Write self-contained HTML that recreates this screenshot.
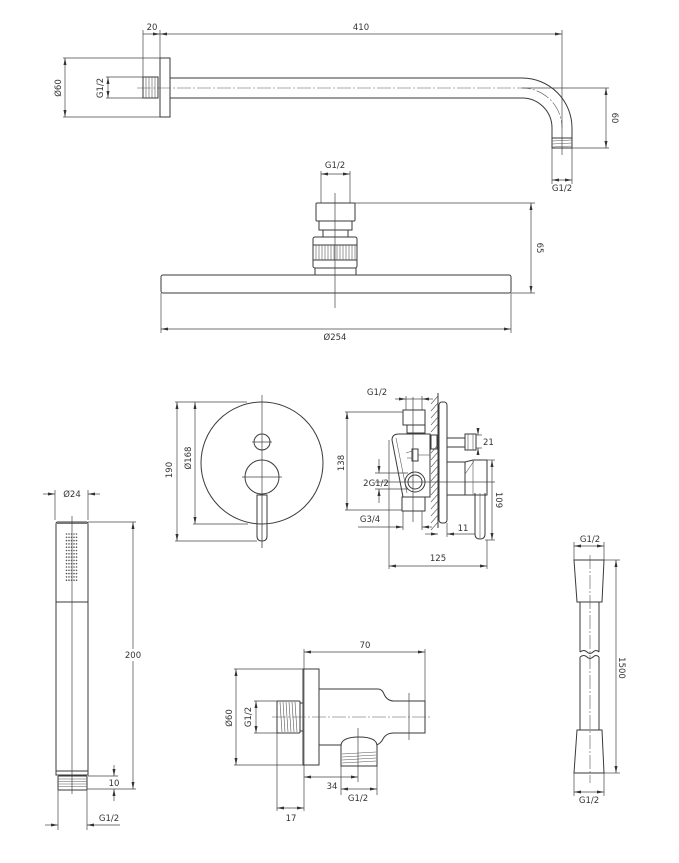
<!DOCTYPE html>
<html><head><meta charset="utf-8"><style>
html,body{margin:0;padding:0;background:#fff;}
svg{display:block;}
text{font-family:"DejaVu Sans","Liberation Sans",sans-serif;font-size:8.5px;fill:#333;}
.o{fill:none;stroke:#3a3a3a;stroke-width:1;}
.d{fill:none;stroke:#444;stroke-width:0.7;}
.c{fill:none;stroke:#555;stroke-width:0.6;stroke-dasharray:14 2 2 2;}
.t{fill:none;stroke:#555;stroke-width:0.6;}
</style></head><body>
<svg width="679" height="863" viewBox="0 0 679 863" xmlns="http://www.w3.org/2000/svg">
<defs>
<marker id="a" viewBox="0 0 7 3" refX="7" refY="1.5" markerWidth="7" markerHeight="3" markerUnits="userSpaceOnUse" orient="auto-start-reverse"><path d="M0,0 L7,1.5 L0,3 z" fill="#333"/></marker>
</defs>

<!-- ===== TOP SHOWER ARM ===== -->
<g>
<line class="d" x1="143" y1="30" x2="143" y2="77"/>
<line class="d" x1="160" y1="30" x2="160" y2="58"/>
<line class="d" x1="143" y1="34" x2="160" y2="34" marker-end="url(#a)"/>
<line class="d" x1="160" y1="34" x2="562" y2="34" marker-start="url(#a)" marker-end="url(#a)"/>
<text x="152" y="30" text-anchor="middle">20</text>
<text x="361" y="30" text-anchor="middle">410</text>
<line class="d" x1="562" y1="30" x2="562" y2="155"/>

<rect class="o" x="160" y="58" width="10" height="59"/>
<rect class="o" x="143" y="77" width="15" height="21"/>
<g class="t"><line x1="146" y1="77" x2="146" y2="98"/><line x1="149" y1="77" x2="149" y2="98"/><line x1="152" y1="77" x2="152" y2="98"/><line x1="155" y1="77" x2="155" y2="98"/></g>
<path class="o" d="M170,78 L522,78 A50,50 0 0 1 572,128 L572,138"/>
<path class="o" d="M170,98 L522,98 A30,30 0 0 1 552,128 L552,138"/>
<path class="c" d="M137,88 L522,88 A40,40 0 0 1 562,128"/>
<line class="d" x1="522" y1="88" x2="609" y2="88"/>
<rect class="o" x="552" y="138" width="20" height="10"/>
<g class="t"><line x1="552" y1="141" x2="572" y2="140"/><line x1="552" y1="144" x2="572" y2="143"/><line x1="552" y1="147" x2="572" y2="146"/></g>

<line class="d" x1="63" y1="58" x2="160" y2="58"/>
<line class="d" x1="63" y1="117" x2="160" y2="117"/>
<line class="d" x1="65" y1="58" x2="65" y2="117" marker-start="url(#a)" marker-end="url(#a)"/>
<text x="59" y="88" text-anchor="middle" dominant-baseline="central" transform="rotate(-90 59 88)">Ø60</text>
<line class="d" x1="106" y1="77" x2="143" y2="77"/>
<line class="d" x1="106" y1="98" x2="143" y2="98"/>
<line class="d" x1="108" y1="77" x2="108" y2="98" marker-start="url(#a)" marker-end="url(#a)"/>
<text x="101" y="88" text-anchor="middle" dominant-baseline="central" transform="rotate(-90 101 88)">G1/2</text>

<line class="d" x1="572" y1="148" x2="609" y2="148"/>
<line class="d" x1="606" y1="88" x2="606" y2="148" marker-start="url(#a)" marker-end="url(#a)"/>
<text x="614" y="118" text-anchor="middle" dominant-baseline="central" transform="rotate(90 614 118)">60</text>
<line class="d" x1="552" y1="148" x2="552" y2="184"/>
<line class="d" x1="572" y1="148" x2="572" y2="184"/>
<line class="d" x1="552" y1="180" x2="572" y2="180" marker-start="url(#a)" marker-end="url(#a)"/>
<text x="562" y="191" text-anchor="middle">G1/2</text>
</g>

<!-- ===== SHOWER HEAD ===== -->
<g>
<text x="335" y="168" text-anchor="middle">G1/2</text>
<line class="d" x1="321" y1="171" x2="321" y2="203"/>
<line class="d" x1="350" y1="171" x2="350" y2="203"/>
<line class="d" x1="321" y1="174" x2="350" y2="174" marker-start="url(#a)" marker-end="url(#a)"/>
<rect class="o" x="316" y="203" width="39" height="18" rx="1"/>
<rect class="o" x="319" y="221" width="33" height="9"/>
<rect class="o" x="323" y="230" width="25" height="7"/>
<rect class="o" x="313" y="237" width="44" height="31" rx="2"/>
<rect class="o" x="313" y="245" width="44" height="15"/>
<g class="t">
<line x1="316" y1="245" x2="316" y2="260"/><line x1="319" y1="245" x2="319" y2="260"/><line x1="322" y1="245" x2="322" y2="260"/><line x1="325" y1="245" x2="325" y2="260"/><line x1="328" y1="245" x2="328" y2="260"/><line x1="331" y1="245" x2="331" y2="260"/><line x1="334" y1="245" x2="334" y2="260"/><line x1="337" y1="245" x2="337" y2="260"/><line x1="340" y1="245" x2="340" y2="260"/><line x1="343" y1="245" x2="343" y2="260"/><line x1="346" y1="245" x2="346" y2="260"/><line x1="349" y1="245" x2="349" y2="260"/><line x1="352" y1="245" x2="352" y2="260"/><line x1="355" y1="245" x2="355" y2="260"/>
</g>
<rect class="o" x="315" y="268" width="41" height="7"/>
<rect class="o" x="161" y="275" width="350" height="18" rx="2"/>
<line class="d" x1="335" y1="193" x2="335" y2="308"/>
<line class="d" x1="355" y1="203" x2="535" y2="203"/>
<line class="d" x1="511" y1="293" x2="535" y2="293"/>
<line class="d" x1="531" y1="203" x2="531" y2="293" marker-start="url(#a)" marker-end="url(#a)"/>
<text x="539" y="248" text-anchor="middle" dominant-baseline="central" transform="rotate(90 539 248)">65</text>
<line class="d" x1="161" y1="293" x2="161" y2="333"/>
<line class="d" x1="511" y1="293" x2="511" y2="333"/>
<line class="d" x1="161" y1="329" x2="511" y2="329" marker-start="url(#a)" marker-end="url(#a)"/>
<text x="335" y="340" text-anchor="middle">Ø254</text>
</g>

<!-- ===== MIXER FRONT ===== -->
<g>
<circle class="o" cx="262" cy="463" r="61"/>
<circle class="o" cx="262" cy="442" r="8"/>
<circle class="o" cx="262" cy="477" r="17"/>
<line class="d" x1="252" y1="442" x2="272" y2="442"/>
<line class="d" x1="242" y1="477" x2="282" y2="477"/>
<line class="d" x1="262" y1="395" x2="262" y2="548"/>
<path class="o" d="M257,495 L257,536 Q257,541 262,541 Q267,541 267,536 L267,495 Z" fill="#fff"/>
<line class="t" x1="262" y1="495" x2="262" y2="548"/>
<line class="d" x1="175" y1="402" x2="247" y2="402"/>
<line class="d" x1="175" y1="541" x2="257" y2="541"/>
<line class="d" x1="177" y1="402" x2="177" y2="541" marker-start="url(#a)" marker-end="url(#a)"/>
<text x="170" y="470" text-anchor="middle" dominant-baseline="central" transform="rotate(-90 170 470)">190</text>
<line class="d" x1="193" y1="524" x2="248" y2="524"/>
<line class="d" x1="195" y1="402" x2="195" y2="524" marker-start="url(#a)" marker-end="url(#a)"/>
<text x="189" y="458" text-anchor="middle" dominant-baseline="central" transform="rotate(-90 189 458)">Ø168</text>
</g>

<!-- ===== MIXER SIDE ===== -->
<g>
<text x="377" y="395" text-anchor="middle">G1/2</text>
<line class="d" x1="406" y1="396" x2="406" y2="410"/>
<line class="d" x1="422" y1="396" x2="422" y2="410"/>
<line class="d" x1="395" y1="399" x2="406" y2="399" marker-end="url(#a)"/>
<line class="d" x1="433" y1="399" x2="422" y2="399" marker-end="url(#a)"/>
<line class="d" x1="406" y1="399" x2="422" y2="399"/>
<!-- wall -->
<line class="o" x1="438" y1="393" x2="438" y2="528"/>
<g class="t">
<line x1="431" y1="404" x2="438" y2="396"/><line x1="431" y1="411" x2="438" y2="403"/><line x1="431" y1="418" x2="438" y2="410"/><line x1="431" y1="425" x2="438" y2="417"/><line x1="431" y1="432" x2="438" y2="424"/><line x1="431" y1="453" x2="438" y2="445"/><line x1="431" y1="460" x2="438" y2="452"/><line x1="431" y1="467" x2="438" y2="459"/><line x1="431" y1="474" x2="438" y2="466"/><line x1="431" y1="481" x2="438" y2="473"/><line x1="431" y1="488" x2="438" y2="480"/><line x1="431" y1="495" x2="438" y2="487"/><line x1="431" y1="502" x2="438" y2="494"/><line x1="431" y1="509" x2="438" y2="501"/><line x1="431" y1="516" x2="438" y2="508"/><line x1="431" y1="523" x2="438" y2="515"/><line x1="431" y1="530" x2="438" y2="522"/>
</g>
<rect class="o" x="439" y="402" width="8" height="121" rx="3" fill="#fff"/>
<!-- top fitting -->
<rect class="o" x="403" y="410" width="22" height="15" fill="#fff"/>
<rect class="o" x="407" y="425" width="18" height="8" fill="#fff"/>
<!-- body -->
<path class="o" d="M392,440 Q392,434 399,434 L430,434 L430,497 L403,497 Z" fill="#fff"/>
<line class="t" x1="396" y1="438" x2="407" y2="493"/>
<rect class="o" x="431" y="435" width="6" height="14"/>
<!-- small valve -->
<rect class="o" x="412" y="449" width="6" height="12"/>
<line class="t" x1="406" y1="453" x2="412" y2="451"/>
<line class="t" x1="407" y1="458" x2="412" y2="458"/>
<line class="t" x1="418" y1="455" x2="430" y2="455"/>
<!-- circle -->
<circle class="o" cx="415" cy="482" r="10" fill="#fff"/>
<circle class="o" cx="415" cy="482" r="7"/>
<!-- bottom fitting -->
<rect class="o" x="402" y="497" width="23" height="14" fill="#fff"/>
<!-- right pipe -->
<rect class="o" x="447" y="438" width="18" height="9"/>
<rect class="o" x="465" y="434" width="11" height="16"/>
<line class="t" x1="468" y1="434" x2="468" y2="450"/>
<line class="t" x1="473" y1="434" x2="473" y2="450"/>
<!-- handle -->
<rect class="o" x="447" y="462" width="18" height="33"/>
<path class="o" d="M465,462 L473,460 L487,460 L487,495 L465,495 Z" fill="#fff"/>
<line class="t" x1="465" y1="474" x2="474" y2="461"/>
<line class="t" x1="473" y1="460" x2="473" y2="495"/>
<path class="o" d="M475,493 L475,534 Q475,539 480,539 Q485,539 485,534 L485,493" fill="#fff"/>
<line class="t" x1="480" y1="493" x2="480" y2="538"/>
<!-- center lines -->
<line class="d" x1="375" y1="482" x2="495" y2="482"/>
<line class="d" x1="413" y1="397" x2="413" y2="522"/>
<!-- 21 -->
<line class="d" x1="476" y1="435" x2="482" y2="435"/>
<line class="d" x1="476" y1="448" x2="482" y2="448"/>
<line class="d" x1="478" y1="428" x2="478" y2="435" marker-end="url(#a)"/>
<line class="d" x1="478" y1="455" x2="478" y2="448" marker-end="url(#a)"/>
<text x="483" y="445">21</text>
<!-- 109 -->
<line class="d" x1="487" y1="460" x2="495" y2="460"/>
<line class="d" x1="485" y1="540" x2="495" y2="540"/>
<line class="d" x1="492" y1="460" x2="492" y2="540" marker-start="url(#a)" marker-end="url(#a)"/>
<text x="498" y="500" text-anchor="middle" dominant-baseline="central" transform="rotate(90 498 500)">109</text>
<!-- 138 -->
<line class="d" x1="345" y1="412" x2="403" y2="412"/>
<line class="d" x1="345" y1="510" x2="402" y2="510"/>
<line class="d" x1="347" y1="412" x2="347" y2="510" marker-start="url(#a)" marker-end="url(#a)"/>
<text x="342" y="463" text-anchor="middle" dominant-baseline="central" transform="rotate(-90 342 463)">138</text>
<!-- 2G1/2 -->
<line class="d" x1="375" y1="473" x2="408" y2="473"/>
<line class="d" x1="375" y1="489" x2="408" y2="489"/>
<line class="d" x1="379" y1="459" x2="379" y2="473" marker-end="url(#a)"/>
<line class="d" x1="379" y1="503" x2="379" y2="489" marker-end="url(#a)"/>
<text x="376" y="486" text-anchor="middle">2G1/2</text>
<!-- G3/4 -->
<line class="d" x1="403" y1="511" x2="403" y2="530"/>
<line class="d" x1="422" y1="511" x2="422" y2="530"/>
<line class="d" x1="358" y1="527" x2="403" y2="527" marker-end="url(#a)"/>
<line class="d" x1="432" y1="527" x2="422" y2="527" marker-end="url(#a)"/>
<text x="370" y="522" text-anchor="middle">G3/4</text>
<!-- 11 -->
<line class="d" x1="447" y1="523" x2="447" y2="537"/>
<line class="d" x1="425" y1="534" x2="438" y2="534" marker-end="url(#a)"/>
<line class="d" x1="475" y1="534" x2="447" y2="534" marker-end="url(#a)"/>
<text x="463" y="531" text-anchor="middle">11</text>
<!-- 125 -->
<line class="d" x1="389" y1="440" x2="389" y2="569"/>
<line class="d" x1="487" y1="540" x2="487" y2="569"/>
<line class="d" x1="389" y1="566" x2="487" y2="566" marker-start="url(#a)" marker-end="url(#a)"/>
<text x="438" y="561" text-anchor="middle">125</text>
</g>

<!-- ===== HAND SHOWER ===== -->
<g>
<text x="72" y="497" text-anchor="middle">Ø24</text>
<line class="d" x1="55" y1="490" x2="55" y2="520"/>
<line class="d" x1="88" y1="490" x2="88" y2="520"/>
<line class="d" x1="43" y1="494" x2="55" y2="494" marker-end="url(#a)"/>
<line class="d" x1="100" y1="494" x2="88" y2="494" marker-end="url(#a)"/>
<path class="o" d="M56,771 L56,524 Q56,522 58,522 L86,522 Q88,522 88,524 L88,771"/>
<line x1="57" y1="523" x2="87" y2="523" stroke="#777" stroke-width="2"/>
<line class="o" x1="56" y1="602" x2="88" y2="602"/>
<rect class="o" x="56" y="771" width="32" height="4"/>
<rect class="o" x="58" y="776" width="29" height="14" rx="1"/>
<g class="t"><line x1="58" y1="779" x2="87" y2="779"/><line x1="58" y1="781.5" x2="87" y2="781.5"/><line x1="58" y1="784" x2="87" y2="784"/><line x1="58" y1="786.5" x2="87" y2="786.5"/></g>
<line class="d" x1="72" y1="516" x2="72" y2="794"/>
<g fill="#555">
<circle cx="66.5" cy="534" r="0.8"/><circle cx="69" cy="534" r="0.8"/><circle cx="71.5" cy="534" r="0.8"/><circle cx="74" cy="534" r="0.8"/><circle cx="76.5" cy="534" r="0.8"/>
<circle cx="66.5" cy="537.3" r="0.8"/><circle cx="69" cy="537.3" r="0.8"/><circle cx="71.5" cy="537.3" r="0.8"/><circle cx="74" cy="537.3" r="0.8"/><circle cx="76.5" cy="537.3" r="0.8"/>
<circle cx="66.5" cy="540.6" r="0.8"/><circle cx="69" cy="540.6" r="0.8"/><circle cx="71.5" cy="540.6" r="0.8"/><circle cx="74" cy="540.6" r="0.8"/><circle cx="76.5" cy="540.6" r="0.8"/>
<circle cx="66.5" cy="543.9" r="0.8"/><circle cx="69" cy="543.9" r="0.8"/><circle cx="71.5" cy="543.9" r="0.8"/><circle cx="74" cy="543.9" r="0.8"/><circle cx="76.5" cy="543.9" r="0.8"/>
<circle cx="66.5" cy="547.2" r="0.8"/><circle cx="69" cy="547.2" r="0.8"/><circle cx="71.5" cy="547.2" r="0.8"/><circle cx="74" cy="547.2" r="0.8"/><circle cx="76.5" cy="547.2" r="0.8"/>
<circle cx="66.5" cy="550.5" r="0.8"/><circle cx="69" cy="550.5" r="0.8"/><circle cx="71.5" cy="550.5" r="0.8"/><circle cx="74" cy="550.5" r="0.8"/><circle cx="76.5" cy="550.5" r="0.8"/>
<circle cx="66.5" cy="553.8" r="0.8"/><circle cx="69" cy="553.8" r="0.8"/><circle cx="71.5" cy="553.8" r="0.8"/><circle cx="74" cy="553.8" r="0.8"/><circle cx="76.5" cy="553.8" r="0.8"/>
<circle cx="66.5" cy="557.1" r="0.8"/><circle cx="69" cy="557.1" r="0.8"/><circle cx="71.5" cy="557.1" r="0.8"/><circle cx="74" cy="557.1" r="0.8"/><circle cx="76.5" cy="557.1" r="0.8"/>
<circle cx="66.5" cy="560.4" r="0.8"/><circle cx="69" cy="560.4" r="0.8"/><circle cx="71.5" cy="560.4" r="0.8"/><circle cx="74" cy="560.4" r="0.8"/><circle cx="76.5" cy="560.4" r="0.8"/>
<circle cx="66.5" cy="563.7" r="0.8"/><circle cx="69" cy="563.7" r="0.8"/><circle cx="71.5" cy="563.7" r="0.8"/><circle cx="74" cy="563.7" r="0.8"/><circle cx="76.5" cy="563.7" r="0.8"/>
<circle cx="66.5" cy="567" r="0.8"/><circle cx="69" cy="567" r="0.8"/><circle cx="71.5" cy="567" r="0.8"/><circle cx="74" cy="567" r="0.8"/><circle cx="76.5" cy="567" r="0.8"/>
<circle cx="66.5" cy="570.3" r="0.8"/><circle cx="69" cy="570.3" r="0.8"/><circle cx="71.5" cy="570.3" r="0.8"/><circle cx="74" cy="570.3" r="0.8"/><circle cx="76.5" cy="570.3" r="0.8"/>
<circle cx="66.5" cy="573.6" r="0.8"/><circle cx="69" cy="573.6" r="0.8"/><circle cx="71.5" cy="573.6" r="0.8"/><circle cx="74" cy="573.6" r="0.8"/><circle cx="76.5" cy="573.6" r="0.8"/>
<circle cx="66.5" cy="576.9" r="0.8"/><circle cx="69" cy="576.9" r="0.8"/><circle cx="71.5" cy="576.9" r="0.8"/><circle cx="74" cy="576.9" r="0.8"/><circle cx="76.5" cy="576.9" r="0.8"/>
<circle cx="66.5" cy="580.2" r="0.8"/><circle cx="69" cy="580.2" r="0.8"/><circle cx="71.5" cy="580.2" r="0.8"/><circle cx="74" cy="580.2" r="0.8"/><circle cx="76.5" cy="580.2" r="0.8"/>
</g>
<!-- 200 -->
<line class="d" x1="88" y1="522" x2="136" y2="522"/>
<line class="d" x1="87" y1="789" x2="136" y2="789"/>
<line class="d" x1="133" y1="522" x2="133" y2="789" marker-start="url(#a)" marker-end="url(#a)"/>
<rect x="122" y="649" width="22" height="12" fill="#fff"/>
<text x="133" y="658" text-anchor="middle">200</text>
<!-- 10 -->
<line class="d" x1="88" y1="776" x2="118" y2="776"/>
<line class="d" x1="114" y1="765" x2="114" y2="776" marker-end="url(#a)"/>
<line class="d" x1="114" y1="801" x2="114" y2="789" marker-end="url(#a)"/>
<text x="114" y="786" text-anchor="middle">10</text>
<!-- G1/2 -->
<line class="d" x1="58" y1="790" x2="58" y2="830"/>
<line class="d" x1="87" y1="790" x2="87" y2="830"/>
<line class="d" x1="45" y1="825" x2="58" y2="825" marker-end="url(#a)"/>
<line class="d" x1="120" y1="825" x2="87" y2="825" marker-end="url(#a)"/>
<text x="109" y="821" text-anchor="middle">G1/2</text>
</g>

<!-- ===== WALL ELBOW ===== -->
<g>
<text x="365" y="648" text-anchor="middle">70</text>
<line class="d" x1="304" y1="649" x2="304" y2="811"/>
<line class="d" x1="425" y1="649" x2="425" y2="701"/>
<line class="d" x1="304" y1="652" x2="425" y2="652" marker-start="url(#a)" marker-end="url(#a)"/>
<rect class="o" x="303" y="669" width="16" height="96"/>
<line class="d" x1="234" y1="669" x2="303" y2="669"/>
<line class="d" x1="234" y1="765" x2="303" y2="765"/>
<line class="d" x1="236" y1="669" x2="236" y2="765" marker-start="url(#a)" marker-end="url(#a)"/>
<text x="230" y="718" text-anchor="middle" dominant-baseline="central" transform="rotate(-90 230 718)">Ø60</text>
<line class="d" x1="254" y1="701" x2="278" y2="701"/>
<line class="d" x1="254" y1="733" x2="278" y2="733"/>
<line class="d" x1="256" y1="701" x2="256" y2="733" marker-start="url(#a)" marker-end="url(#a)"/>
<text x="249" y="717" text-anchor="middle" dominant-baseline="central" transform="rotate(-90 249 717)">G1/2</text>
<rect class="o" x="277" y="701" width="23" height="32" rx="1"/>
<rect class="o" x="300" y="703" width="3" height="28"/>
<g class="t"><line x1="280" y1="702" x2="282" y2="732"/><line x1="283" y1="702" x2="285" y2="732"/><line x1="286" y1="702" x2="288" y2="732"/><line x1="289" y1="702" x2="291" y2="732"/><line x1="292" y1="702" x2="294" y2="732"/><line x1="295" y1="702" x2="297" y2="732"/></g>
<path class="o" d="M319,689 L378,689 Q382,689 384,694 Q387,701 394,701 L425,701 L425,733 L394,733 Q386,733 383,739 Q381,743 377,745"/>
<line class="o" x1="319" y1="745" x2="341" y2="745"/>
<path class="o" d="M341,766 L341,746 Q341,737 359,737 Q377,737 377,746 L377,766 Z"/>
<g class="t"><line x1="342" y1="754" x2="376" y2="752"/><line x1="342" y1="757" x2="376" y2="755"/><line x1="342" y1="760" x2="376" y2="758"/><line x1="342" y1="763" x2="376" y2="761"/></g>
<line class="c" x1="272" y1="717" x2="432" y2="717"/>
<line class="d" x1="409" y1="693" x2="409" y2="740"/>
<line class="d" x1="358" y1="728" x2="358" y2="782"/>
<line class="d" x1="304" y1="777" x2="358" y2="777" marker-start="url(#a)" marker-end="url(#a)"/>
<text x="332" y="789" text-anchor="middle">34</text>
<line class="d" x1="341" y1="766" x2="341" y2="795"/>
<line class="d" x1="377" y1="766" x2="377" y2="795"/>
<line class="d" x1="341" y1="789" x2="377" y2="789" marker-start="url(#a)" marker-end="url(#a)"/>
<text x="358" y="801" text-anchor="middle">G1/2</text>
<line class="d" x1="277" y1="733" x2="277" y2="811"/>
<line class="d" x1="277" y1="808" x2="304" y2="808" marker-start="url(#a)" marker-end="url(#a)"/>
<text x="291" y="821" text-anchor="middle">17</text>
</g>

<!-- ===== HOSE ===== -->
<g>
<text x="590" y="542" text-anchor="middle">G1/2</text>
<line class="d" x1="574" y1="542" x2="574" y2="560"/>
<line class="d" x1="604" y1="542" x2="604" y2="560"/>
<line class="d" x1="574" y1="546" x2="604" y2="546" marker-start="url(#a)" marker-end="url(#a)"/>
<path class="o" d="M574,560 L604,560 L602,602 L577,602 Z"/>
<line class="o" x1="580" y1="602" x2="580" y2="652"/>
<line class="o" x1="599" y1="602" x2="599" y2="652"/>
<path class="o" d="M580,652 Q584,649 587,652 Q590,655 593,652 Q596,649 599,652"/>
<path class="o" d="M580,657 Q584,654 587,657 Q590,660 593,657 Q596,654 599,657"/>
<line class="o" x1="580" y1="657" x2="580" y2="730"/>
<line class="o" x1="599" y1="657" x2="599" y2="730"/>
<path class="o" d="M577,730 L602,730 L604,773 L574,773 Z"/>
<line class="c" x1="590" y1="555" x2="590" y2="783"/>
<line class="d" x1="604" y1="560" x2="620" y2="560"/>
<line class="d" x1="604" y1="773" x2="620" y2="773"/>
<line class="d" x1="616" y1="560" x2="616" y2="773" marker-start="url(#a)" marker-end="url(#a)"/>
<text x="621" y="668" text-anchor="middle" dominant-baseline="central" transform="rotate(90 621 668)">1500</text>
<line class="d" x1="574" y1="773" x2="574" y2="796"/>
<line class="d" x1="604" y1="773" x2="604" y2="796"/>
<line class="d" x1="574" y1="792" x2="604" y2="792" marker-start="url(#a)" marker-end="url(#a)"/>
<text x="589" y="803" text-anchor="middle">G1/2</text>
</g>
</svg>
</body></html>
